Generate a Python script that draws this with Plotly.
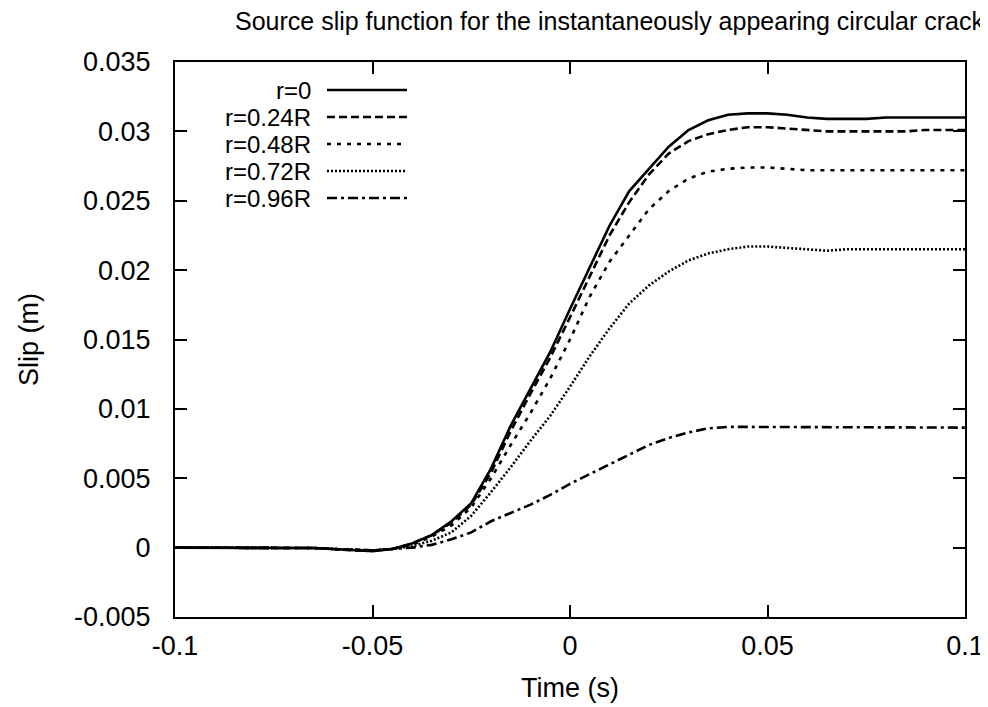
import plotly.graph_objects as go

time = [-0.1, -0.095, -0.09, -0.085, -0.08, -0.075, -0.07, -0.065, -0.06, -0.055,
        -0.05, -0.045, -0.04, -0.035, -0.03, -0.025, -0.02, -0.015, -0.01, -0.005,
        0.0, 0.005, 0.01, 0.015, 0.02, 0.025, 0.03, 0.035, 0.04, 0.045,
        0.05, 0.055, 0.06, 0.065, 0.07, 0.075, 0.08, 0.085, 0.09, 0.095, 0.1]

slip_r0 = [0, 0, 0, 0.00002, 0.00002, 0, 0, -0.00003, -0.0001, -0.0002,
           -0.00025, -0.0001, 0.0003, 0.0009, 0.0019, 0.0032, 0.0057, 0.0088, 0.0115, 0.0141,
           0.0172, 0.0202, 0.0232, 0.0257, 0.0273, 0.0289, 0.0301, 0.0308, 0.0312, 0.0313,
           0.0313, 0.0312, 0.0310, 0.0309, 0.0309, 0.0309, 0.0310, 0.0310, 0.0310, 0.0310, 0.0310]

slip_r024 = [0, 0, 0, 0.00002, 0.00002, 0, 0, -0.00003, -0.0001, -0.0002,
             -0.00022, -0.0001, 0.0003, 0.0009, 0.0018, 0.0031, 0.0054, 0.0084, 0.0111, 0.0137,
             0.0166, 0.0196, 0.0225, 0.0249, 0.0269, 0.0284, 0.0293, 0.0298, 0.0301, 0.0303,
             0.0303, 0.0302, 0.0301, 0.0300, 0.0300, 0.0300, 0.0300, 0.0300, 0.0301, 0.0301, 0.0301]

slip_r048 = [0, 0, 0, 0.00002, 0.00002, 0, 0, -0.00003, -0.0001, -0.00015,
             -0.0002, -0.0001, 0.0002, 0.0008, 0.0016, 0.0029, 0.0050, 0.0074, 0.0097, 0.0122,
             0.0150, 0.0181, 0.0206, 0.0225, 0.0244, 0.0257, 0.0266, 0.0271, 0.0273, 0.0274,
             0.0274, 0.0273, 0.0272, 0.0272, 0.0272, 0.0272, 0.0272, 0.0272, 0.0272, 0.0272, 0.0272]

slip_r072 = [0, 0, 0, 0.00002, 0.00002, 0, 0, -0.00003, -0.0001, -0.00015,
             -0.0002, -0.0001, 0.0001, 0.0005, 0.0011, 0.0023, 0.0040, 0.0058, 0.0077, 0.0095,
             0.0116, 0.0138, 0.0158, 0.0176, 0.0189, 0.0199, 0.0207, 0.0212, 0.0215, 0.0217,
             0.0217, 0.0216, 0.0215, 0.0214, 0.0215, 0.0215, 0.0215, 0.0215, 0.0215, 0.0215, 0.0215]

slip_r096 = [0, 0, 0, 0.00002, 0.00002, 0, 0, -0.00003, -0.0001, -0.00015,
             -0.0002, -0.0001, 0.0000, 0.0002, 0.0006, 0.0011, 0.0019, 0.0025, 0.0031, 0.0038,
             0.0046, 0.0053, 0.0060, 0.0067, 0.0074, 0.0079, 0.0083, 0.0086, 0.0087, 0.0087,
             0.0087, 0.0087, 0.0087, 0.0087, 0.0087, 0.0087, 0.00865, 0.00865, 0.00865, 0.00865, 0.00865]

labels = ["r=0", "r=0.24R", "r=0.48R", "r=0.72R", "r=0.96R"]
series = [slip_r0, slip_r024, slip_r048, slip_r072, slip_r096]
dashes = ["solid", "8px,4px", "4px,6px", "2px,2px", "10px,4px,3px,4px"]

FONT = "Liberation Sans, Arial, sans-serif"
FS = 27
OFF = 8                      # default page (body) margin of the HTML page
PAGE_W, PAGE_H = 988, 707
PL, PR, PT, PB = 175, 965, 62, 617   # plot-area edges in page pixels
W, H = PAGE_W - OFF, PAGE_H - OFF
ML, MR, MT, MB = PL - OFF, PAGE_W - PR, PT - OFF, PAGE_H - PB
PW, PH = PR - PL, PB - PT

fig = go.Figure()
for lab, ys, d in zip(labels, series, dashes):
    fig.add_trace(go.Scatter(x=time, y=ys, mode="lines", name=lab, showlegend=False,
                             line=dict(color="black", width=2.6, dash=d)))

# gnuplot-style key: text right-aligned, then line sample
key_rows_px = [90, 117, 144, 171, 198]
for lab, d, py in zip(labels, dashes, key_rows_px):
    yp = (PB - py) / PH
    fig.add_annotation(xref="paper", yref="paper", x=(312 - PL) / PW, y=yp,
                       xanchor="right", yanchor="middle", text=lab, showarrow=False,
                       borderpad=0, font=dict(size=24, family=FONT, color="black"))
    fig.add_shape(type="line", xref="paper", yref="paper",
                  x0=(327 - PL) / PW, x1=(407 - PL) / PW, y0=yp, y1=yp,
                  line=dict(color="black", width=2.6, dash=d))

fig.update_layout(
    width=W, height=H,
    margin=dict(l=ML, r=MR, t=MT, b=MB, autoexpand=False),
    paper_bgcolor="white", plot_bgcolor="white",
    font=dict(family=FONT, size=FS, color="black"),
    title=dict(text="Source slip function for the instantaneously appearing circular crack",
               x=(235 - OFF) / W, xref="container", xanchor="left",
               y=1 - (21 - OFF) / H, yref="container", yanchor="middle",
               font=dict(size=25)),
    showlegend=False,
)
fig.update_xaxes(range=[-0.1, 0.1], tickvals=[-0.1, -0.05, 0, 0.05, 0.1],
                 ticktext=["-0.1", "-0.05", "0", "0.05", "0.1"],
                 ticks="inside", ticklen=12, tickwidth=1.5, tickcolor="black",
                 showline=True, linewidth=2, linecolor="black", mirror="allticks",
                 showgrid=False, zeroline=False, tickfont=dict(size=FS),
                 ticklabelstandoff=4, automargin=False,
                 title=dict(text="Time (s)", standoff=18, font=dict(size=FS)))
fig.update_yaxes(range=[-0.005, 0.035],
                 tickvals=[-0.005, 0, 0.005, 0.01, 0.015, 0.02, 0.025, 0.03, 0.035],
                 ticktext=["-0.005", "0", "0.005", "0.01", "0.015", "0.02", "0.025", "0.03", "0.035"],
                 ticks="inside", ticklen=12, tickwidth=1.5, tickcolor="black",
                 showline=True, linewidth=2, linecolor="black", mirror="allticks",
                 showgrid=False, zeroline=False, ticklabelstandoff=17, tickfont=dict(size=FS),
                 automargin=False,
                 title=dict(text="Slip (m)", standoff=28, font=dict(size=FS)))

fig.write_html("out.html")
